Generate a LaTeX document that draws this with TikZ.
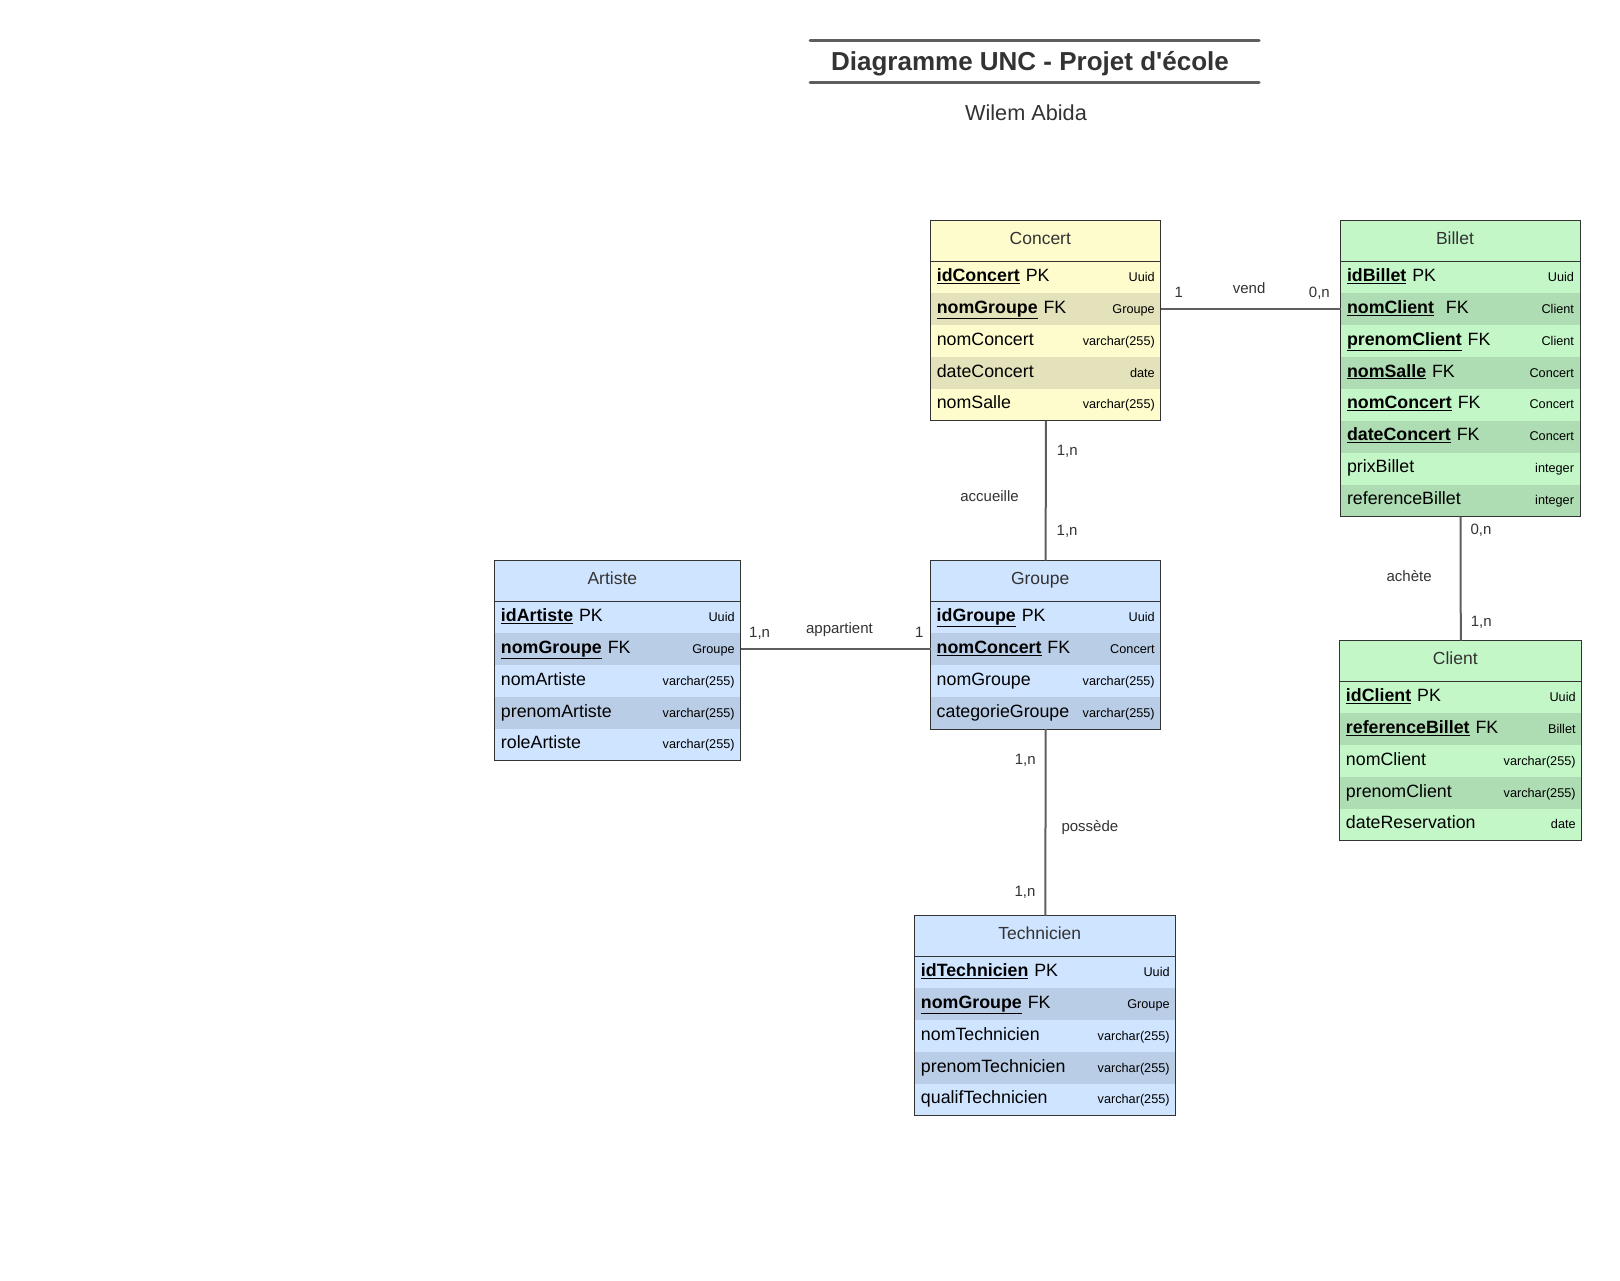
\documentclass[tikz,border=0pt]{standalone}
\usepackage{fontspec}
\setmainfont{Liberation Sans}
\usetikzlibrary{positioning}

\definecolor{txt}{HTML}{333333}
\definecolor{linegray}{HTML}{5E5E5E}
\definecolor{yellowA}{HTML}{FEFCCD}
\definecolor{yellowB}{HTML}{E4E2BA}
\definecolor{greenA}{HTML}{C3F7C8}
\definecolor{greenB}{HTML}{AEDDB3}
\definecolor{blueA}{HTML}{CFE4FF}
\definecolor{blueB}{HTML}{BACDE6}

\newcommand{\keyname}[1]{\underline{\textbf{#1}}}
\newcommand{\coltype}[1]{{\fontsize{12.7}{14}\selectfont #1}}

\tikzset{
  header/.style={text=txt, minimum height=40.7pt, minimum width=#1, inner sep=0pt, outer sep=0pt, anchor=north,
    text height=13pt, text depth=7pt, execute at end node={\hspace*{11pt}}, font=\fontsize{17.5}{20}\selectfont},
  row/.style={minimum height=31.9pt, inner xsep=6pt, inner ysep=0pt, outer sep=0pt, text width=#1,
    text height=13pt, text depth=5pt, font=\fontsize{17.8}{20}\selectfont},
  border/.style={draw=txt, line width=1pt},
  link/.style={draw=linegray, line width=2pt},
  card/.style={text=txt, inner sep=0pt, font=\fontsize{15}{18}\selectfont},
  titlerule/.style={draw=linegray, line width=3pt, line cap=round},
}

\begin{document}
\begin{tikzpicture}[x=1pt, y=-1pt]
    \fill[white] (0,0) rectangle (1620,1281);
    \useasboundingbox (0,0) rectangle (1620,1281);

    % Title
    \node[text=txt, font=\fontsize{26}{30}\selectfont\bfseries] (title) at (1030,64) {Diagramme UNC - Projet d\textquotesingle école};
    \node[text=txt, font=\fontsize{21.7}{24}\selectfont] (author) at (1026,113) {Wilem Abida};
    \draw[titlerule] (810,41) -- (1259,41);
    \draw[titlerule] (810,83) -- (1259,83);

    % Concert
    \node[header=230pt, fill=yellowA] (concert) at (1045.8,220.7) {Concert};
    \node[row=218pt, fill=yellowA, below=0pt of concert] (c1) {\keyname{idConcert} PK\hfill\coltype{Uuid}};
    \node[row=218pt, fill=yellowB, below=0pt of c1] (c2) {\keyname{nomGroupe} FK\hfill\coltype{Groupe}};
    \node[row=218pt, fill=yellowA, below=0pt of c2] (c3) {nomConcert\hfill\coltype{varchar(255)}};
    \node[row=218pt, fill=yellowB, below=0pt of c3] (c4) {dateConcert\hfill\coltype{date}};
    \node[row=218pt, fill=yellowA, below=0pt of c4] (c5) {nomSalle\hfill\coltype{varchar(255)}};
    \draw[border] (concert.north west) rectangle (c5.south east);
    \draw[border, line width=1.5pt] (concert.south west) -- (concert.south east);

    % Billet
    \node[header=241pt, fill=greenA] (billet) at (1460.5,220.7) {Billet};
    \node[row=227pt, fill=greenA, below=0pt of billet] (b1) {\keyname{idBillet} PK\hfill\coltype{Uuid}};
    \node[row=227pt, fill=greenB, below=0pt of b1] (b2) {\keyname{nomClient}\ \ FK\hfill\coltype{Client}};
    \node[row=227pt, fill=greenA, below=0pt of b2] (b3) {\keyname{prenomClient} FK\hfill\coltype{Client}};
    \node[row=227pt, fill=greenB, below=0pt of b3] (b4) {\keyname{nomSalle} FK\hfill\coltype{Concert}};
    \node[row=227pt, fill=greenA, below=0pt of b4] (b5) {\keyname{nomConcert} FK\hfill\coltype{Concert}};
    \node[row=227pt, fill=greenB, below=0pt of b5] (b6) {\keyname{dateConcert} FK\hfill\coltype{Concert}};
    \node[row=227pt, fill=greenA, below=0pt of b6] (b7) {prixBillet\hfill\coltype{integer}};
    \node[row=227pt, fill=greenB, below=0pt of b7] (b8) {referenceBillet\hfill\coltype{integer}};
    \draw[border] (billet.north west) rectangle (b8.south east);
    \draw[border, line width=1.5pt] (billet.south west) -- (billet.south east);

    % Artiste
    \node[header=245.7pt, fill=blueA] (artiste) at (617.8,560.7) {Artiste};
    \node[row=233.7pt, fill=blueA, below=0pt of artiste] (a1) {\keyname{idArtiste} PK\hfill\coltype{Uuid}};
    \node[row=233.7pt, fill=blueB, below=0pt of a1] (a2) {\keyname{nomGroupe} FK\hfill\coltype{Groupe}};
    \node[row=233.7pt, fill=blueA, below=0pt of a2] (a3) {nomArtiste\hfill\coltype{varchar(255)}};
    \node[row=233.7pt, fill=blueB, below=0pt of a3] (a4) {prenomArtiste\hfill\coltype{varchar(255)}};
    \node[row=233.7pt, fill=blueA, below=0pt of a4] (a5) {roleArtiste\hfill\coltype{varchar(255)}};
    \draw[border] (artiste.north west) rectangle (a5.south east);
    \draw[border] (artiste.south west) -- (artiste.south east);

    % Groupe
    \node[header=230pt, fill=blueA] (groupe) at (1045.7,560.7) {Groupe};
    \node[row=218pt, fill=blueA, below=0pt of groupe] (g1) {\keyname{idGroupe} PK\hfill\coltype{Uuid}};
    \node[row=218pt, fill=blueB, below=0pt of g1] (g2) {\keyname{nomConcert} FK\hfill\coltype{Concert}};
    \node[row=218pt, fill=blueA, below=0pt of g2] (g3) {nomGroupe\hfill\coltype{varchar(255)}};
    \node[row=218pt, fill=blueB, below=0pt of g3] (g4) {categorieGroupe\hfill\coltype{varchar(255)}};
    \draw[border] (groupe.north west) rectangle (g4.south east);
    \draw[border] (groupe.south west) -- (groupe.south east);

    % Client
    \node[header=241.7pt, fill=greenA] (client) at (1460.8,640.7) {Client};
    \node[row=229.7pt, fill=greenA, below=0pt of client] (k1) {\keyname{idClient} PK\hfill\coltype{Uuid}};
    \node[row=229.7pt, fill=greenB, below=0pt of k1] (k2) {\keyname{referenceBillet} FK\hfill\coltype{Billet}};
    \node[row=229.7pt, fill=greenA, below=0pt of k2] (k3) {nomClient\hfill\coltype{varchar(255)}};
    \node[row=229.7pt, fill=greenB, below=0pt of k3] (k4) {prenomClient\hfill\coltype{varchar(255)}};
    \node[row=229.7pt, fill=greenA, below=0pt of k4] (k5) {dateReservation\hfill\coltype{date}};
    \draw[border] (client.north west) rectangle (k5.south east);
    \draw[border] (client.south west) -- (client.south east);

    % Technicien
    \node[header=260.7pt, fill=blueA] (technicien) at (1045.3,915.7) {Technicien};
    \node[row=248.7pt, fill=blueA, below=0pt of technicien] (t1) {\keyname{idTechnicien} PK\hfill\coltype{Uuid}};
    \node[row=248.7pt, fill=blueB, below=0pt of t1] (t2) {\keyname{nomGroupe} FK\hfill\coltype{Groupe}};
    \node[row=248.7pt, fill=blueA, below=0pt of t2] (t3) {nomTechnicien\hfill\coltype{varchar(255)}};
    \node[row=248.7pt, fill=blueB, below=0pt of t3] (t4) {prenomTechnicien\hfill\coltype{varchar(255)}};
    \node[row=248.7pt, fill=blueA, below=0pt of t4] (t5) {qualifTechnicien\hfill\coltype{varchar(255)}};
    \draw[border] (technicien.north west) rectangle (t5.south east);
    \draw[border] (technicien.south west) -- (technicien.south east);

    % Draw connections
    \draw[link] (c2.east) -- (b2.west)
        node[card, pos=0.10, anchor=base, yshift=11.7pt] (vendA) {1}
        node[card, pos=0.49, anchor=base, yshift=15.7pt] (vend) {vend}
        node[card, pos=0.88, anchor=base, yshift=11.7pt] (vendB) {0,n};
    \draw[link] (c5.south) -- (groupe.north)
        node[card, pos=0.22, anchor=west, xshift=10pt] (accA) {1,n}
        node[card, pos=0.54, anchor=east, xshift=-26pt] (acc) {accueille}
        node[card, pos=0.79, anchor=west, xshift=10pt] (accB) {1,n};
    \draw[link] (a2.east) -- (g2.west)
        node[card, pos=0.10, anchor=base, yshift=11.7pt] (appA) {1,n}
        node[card, pos=0.52, anchor=base, yshift=15.7pt] (app) {appartient}
        node[card, pos=0.94, anchor=base, yshift=11.7pt] (appB) {1};
    \draw[link] (g4.south) -- (technicien.north)
        node[card, pos=0.165, anchor=east, xshift=-9pt] (posA) {1,n}
        node[card, pos=0.53, anchor=west, xshift=15pt] (pos) {possède}
        node[card, pos=0.875, anchor=east, xshift=-9pt] (posB) {1,n};
    \draw[link] (b8.south) -- (client.north)
        node[card, pos=0.11, anchor=west, xshift=9pt] (achA) {0,n}
        node[card, pos=0.48, anchor=east, xshift=-28pt] (ach) {achète}
        node[card, pos=0.85, anchor=west, xshift=9pt] (achB) {1,n};
\end{tikzpicture}
\end{document}
